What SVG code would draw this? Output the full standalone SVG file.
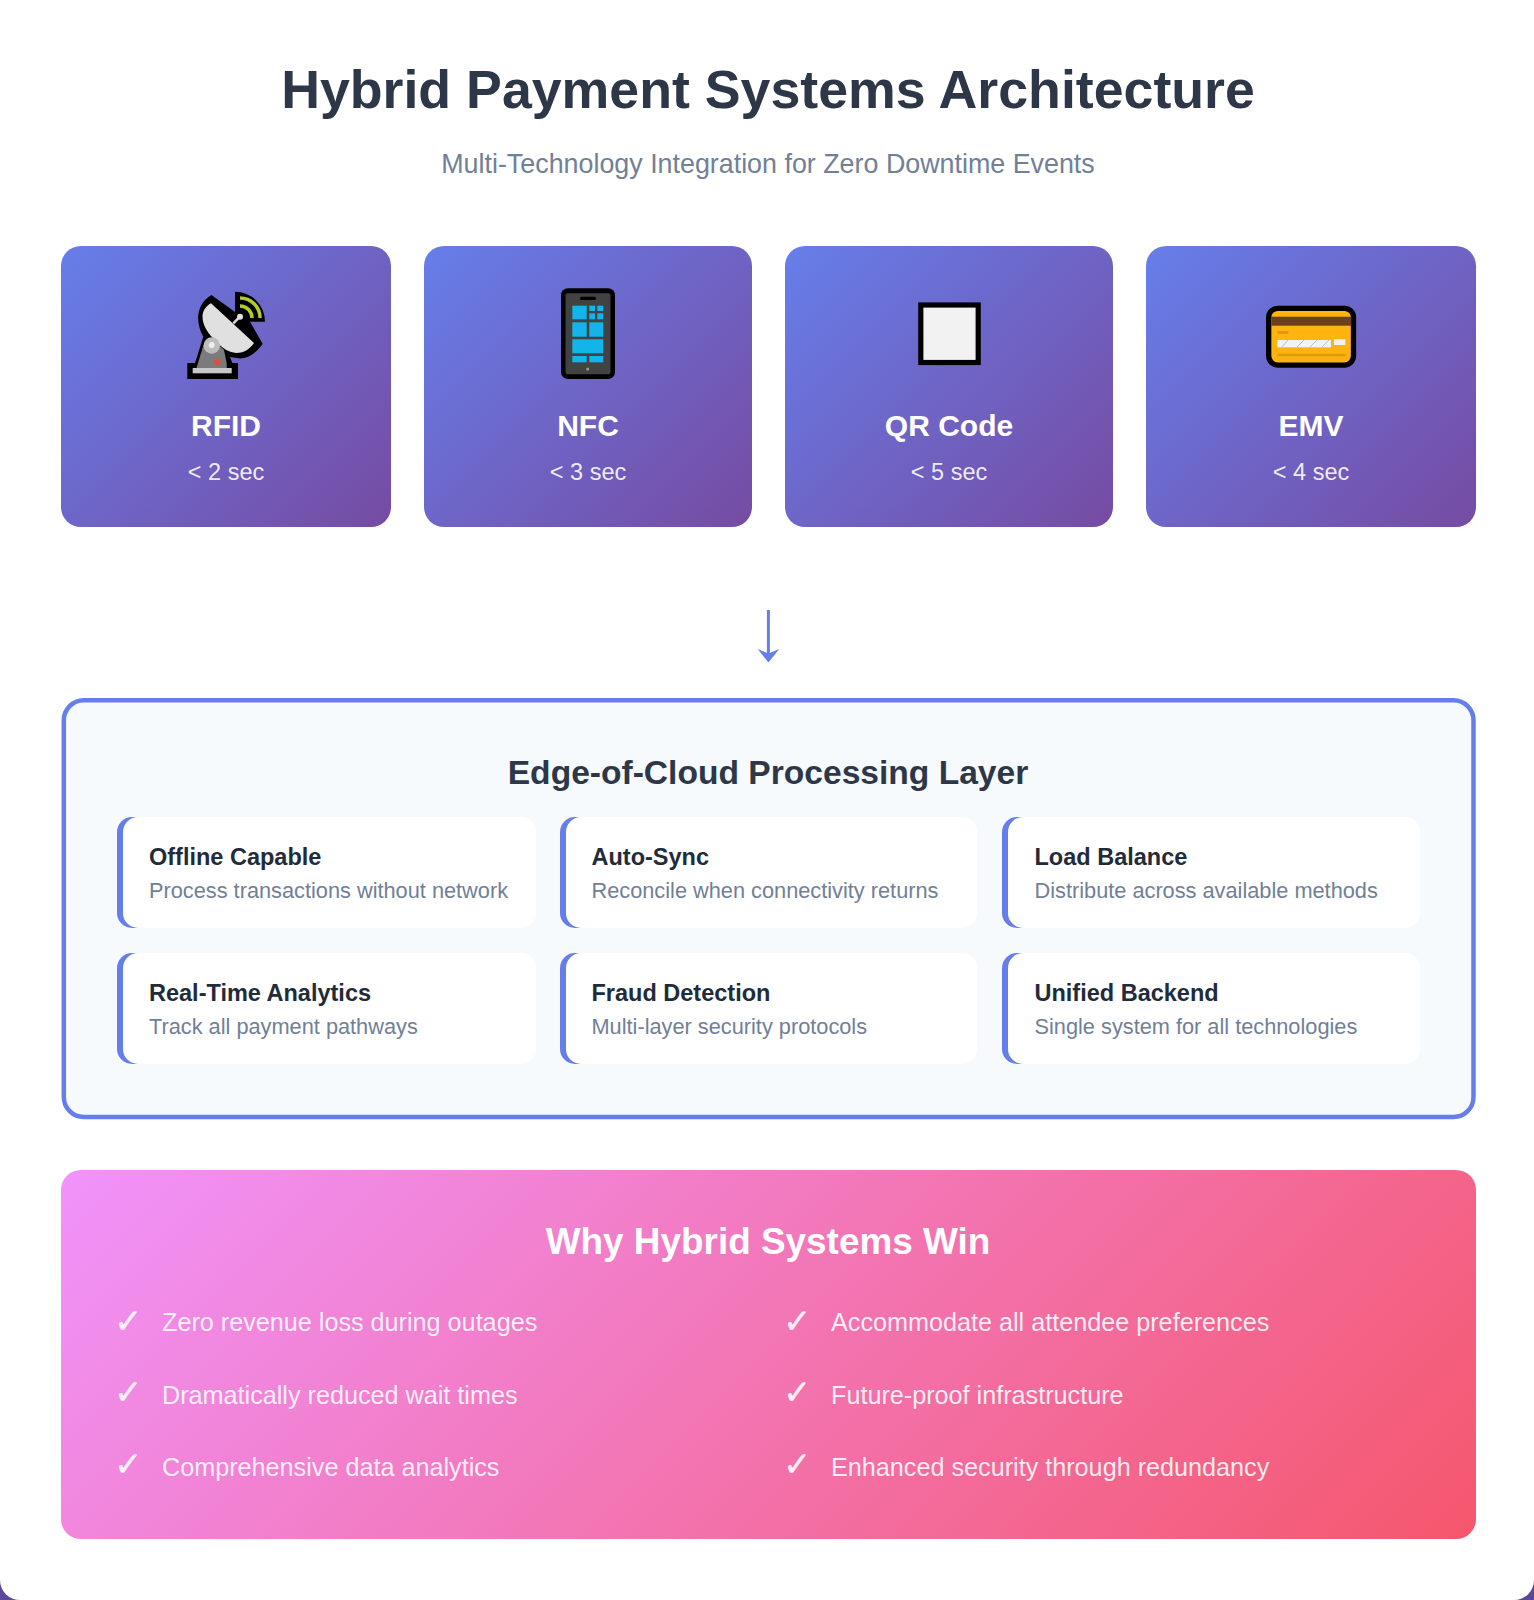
<svg xmlns="http://www.w3.org/2000/svg" width="1534" height="1600" viewBox="0 0 1534 1600">
<style>
text{font-family:"Liberation Sans",Arial,sans-serif}
.c{text-anchor:middle}
.tt{font-size:53.7px;font-weight:700;fill:#2d3748}
.st{font-size:26.85px;fill:#718096}
.cn{font-size:30px;font-weight:700;fill:#fff;text-anchor:middle}
.cs{font-size:23.5px;fill:#fff;fill-opacity:.9;text-anchor:middle}
.h2{font-size:33.6px;font-weight:700;fill:#2d3748;text-anchor:middle}
.bar{fill:#667eea}
.fc{fill:#fff}
.ft{font-size:23.5px;font-weight:700;fill:#222b3a}
.fd{font-size:21.75px;fill:#718096}
.w{font-size:36.9px;font-weight:700;fill:#fff;text-anchor:middle}
.ck{font-size:34px;fill:#fff;fill-opacity:.9;stroke:#fff;stroke-opacity:.8;stroke-width:.4;font-family:"DejaVu Sans",sans-serif}
.bt{font-size:25.2px;fill:#fff;fill-opacity:.88}
</style>
<defs>
<linearGradient id="g1" gradientUnits="userSpaceOnUse" x1="73.250" y1="233.750" x2="378.750" y2="539.250"><stop offset="0" stop-color="#667eea"/><stop offset="1" stop-color="#764ba2"/></linearGradient>
<linearGradient id="g1b" href="#g1" x1="435.750" y1="234" x2="740.250" y2="538.500"/>
<linearGradient id="g1c" href="#g1" x1="796.750" y1="234" x2="1101.250" y2="538.500"/>
<linearGradient id="g1d" href="#g1" x1="1158.250" y1="233.750" x2="1463.750" y2="539.250"/>
<linearGradient id="g2" gradientUnits="userSpaceOnUse" x1="322.500" y1="908.500" x2="1214.500" y2="1800.500"><stop offset="0" stop-color="#f093fb"/><stop offset="1" stop-color="#f5576c"/></linearGradient>
<path id="bar" d="M132 0H15A15 15 0 0 0 0 15V96A15 15 0 0 0 15 111H132Z"/>
</defs>
<rect y="1500" width="1534" height="100" fill="#5c479c"/>
<path d="M0 0H1534V1580A20 20 0 0 1 1514 1600H20A20 20 0 0 1 0 1580Z" fill="#fff"/>
<g id="title">
<text class="tt c" x="768" y="108">Hybrid Payment Systems Architecture</text>
<text class="st c" x="768" y="172.500">Multi-Technology Integration for Zero Downtime Events</text>
</g>
<g id="node-rfid">
<rect x="61" y="246" width="330" height="281" rx="20" fill="url(#g1)"/>
<path fill="#000" d="M211.500 295L235 312V291.700A30 30 0 0 1 265 321.700H250L262.700 344C256 353 248 358.500 240 358.500L230 357L232.300 363H238V379H187.300V363H195L203.300 336.700C195 322 196 304 211.500 295Z"/>
<path fill="#e0e0e0" d="M211 303.300L254 343C249 350 243 353 236 353C226 352 219 345 213 338C206 331 202.500 323 202.500 316.700C202.500 311 206 306 211 303.300Z"/>
<path stroke="#dcdcdc" stroke-width="2.500" d="M233.300 323.300L240 316.700"/>
<circle cx="240" cy="316.700" r="3" fill="#e0e0e0"/>
<path fill="none" stroke="#b4c92e" stroke-width="3.500" d="M240 298A20 20 0 0 1 260 318M240 306A12 12 0 0 1 252 318"/>
<path fill="#7b7b7b" d="M203.500 345L214 340L224 350L226.700 363.500V368H196.500L198 363Z"/>
<circle cx="211.700" cy="345.500" r="8.200" fill="#bdbdbd"/>
<circle cx="211.700" cy="345" r="3" fill="#eee"/>
<circle cx="217.300" cy="362.300" r="3.300" fill="#d9503f"/>
<rect x="192.700" y="368" width="39" height="5.300" fill="#c8c8c8"/>
<text class="cn" x="226" y="436">RFID</text>
<text class="cs" x="226" y="480">&lt; 2 sec</text>
</g>
<g id="node-nfc">
<rect x="424" y="246" width="328" height="281" rx="20" fill="url(#g1b)"/>
<rect x="561" y="288.300" width="54" height="90.700" rx="7" fill="#000"/>
<rect x="565.500" y="293.300" width="45" height="81" rx="2" fill="#424242"/>
<rect x="580" y="296.700" width="16" height="3.300" rx="1.600" fill="#000"/>
<g fill="#12b5ea">
<rect x="572.300" y="305.700" width="14.400" height="13.600"/>
<rect x="589.300" y="305.700" width="5.700" height="5.300"/><rect x="597.300" y="305.700" width="6" height="5.300"/>
<rect x="589.300" y="313.300" width="5.700" height="6"/><rect x="597.300" y="313.300" width="6" height="6"/>
<rect x="572.300" y="322.300" width="14.400" height="14.400"/><rect x="589.300" y="322.300" width="14" height="14.400"/>
<rect x="572.300" y="339.300" width="31" height="14"/>
<rect x="572.300" y="356" width="14.400" height="6.300"/><rect x="589.300" y="356" width="14" height="6.300"/>
</g>
<circle cx="587.700" cy="369" r="1.500" fill="#999"/>
<text class="cn" x="588" y="436">NFC</text>
<text class="cs" x="588" y="480">&lt; 3 sec</text>
</g>
<g id="node-qr">
<rect x="785" y="246" width="328" height="281" rx="20" fill="url(#g1c)"/>
<rect x="920.800" y="305" width="57.400" height="57.500" fill="#f2f2f2" stroke="#000" stroke-width="5.200"/>
<text class="cn" x="949" y="436">QR Code</text>
<text class="cs" x="949" y="480">&lt; 5 sec</text>
</g>
<g id="node-emv">
<rect x="1146" y="246" width="330" height="281" rx="20" fill="url(#g1d)"/>
<rect x="1268.700" y="308.300" width="84.800" height="56.800" rx="9" fill="#ffb30f" stroke="#000" stroke-width="5.300"/>
<rect x="1271.300" y="316.700" width="80" height="9" fill="#6b3f1a"/>
<rect x="1277.300" y="331" width="11" height="3" fill="#e09a10"/>
<rect x="1277.300" y="340" width="53.700" height="7.300" fill="#f2f2f2"/>
<path stroke="#a8c5d6" stroke-width="1" d="M1282 347L1288 340M1297 347L1304 340M1310 347L1317 340M1322 347L1329 340"/>
<rect x="1334" y="339.300" width="11.300" height="5.700" fill="#f2f2f2"/>
<rect x="1277.300" y="353.700" width="68" height="2.600" fill="#e09a10"/>
<text class="cn" x="1311" y="436">EMV</text>
<text class="cs" x="1311" y="480">&lt; 4 sec</text>
</g>
<g id="connectors">
<path d="M768.400 610V655" stroke="#667eea" stroke-width="3" fill="none"/>
<path d="M757.700 649L768.400 653.500L779.300 649L768.400 662.500Z" fill="#667eea"/>
</g>
<g id="edge-layer">
<rect x="63.800" y="700.300" width="1409.700" height="416.700" rx="20" fill="#f7fafc" stroke="#667eea" stroke-width="4.500"/>
<text class="h2" x="768" y="784">Edge-of-Cloud Processing Layer</text>
</g>
<g id="f1"><use href="#bar" class="bar" x="117" y="817"/><rect class="fc" x="123" y="817" width="413" height="111" rx="15"/><text class="ft" x="149" y="865">Offline Capable</text><text class="fd" x="149" y="898">Process transactions without network</text></g>
<g id="f2"><use href="#bar" class="bar" x="560" y="817"/><rect class="fc" x="566" y="817" width="411" height="111" rx="15"/><text class="ft" x="591.500" y="865">Auto-Sync</text><text class="fd" x="591.500" y="898">Reconcile when connectivity returns</text></g>
<g id="f3"><use href="#bar" class="bar" x="1002" y="817"/><rect class="fc" x="1008" y="817" width="412" height="111" rx="15"/><text class="ft" x="1034.500" y="865">Load Balance</text><text class="fd" x="1034.500" y="898">Distribute across available methods</text></g>
<g id="f4"><use href="#bar" class="bar" x="117" y="953"/><rect class="fc" x="123" y="953" width="413" height="111" rx="15"/><text class="ft" x="149" y="1001">Real-Time Analytics</text><text class="fd" x="149" y="1034">Track all payment pathways</text></g>
<g id="f5"><use href="#bar" class="bar" x="560" y="953"/><rect class="fc" x="566" y="953" width="411" height="111" rx="15"/><text class="ft" x="591.500" y="1001">Fraud Detection</text><text class="fd" x="591.500" y="1034">Multi-layer security protocols</text></g>
<g id="f6"><use href="#bar" class="bar" x="1002" y="953"/><rect class="fc" x="1008" y="953" width="412" height="111" rx="15"/><text class="ft" x="1034.500" y="1001">Unified Backend</text><text class="fd" x="1034.500" y="1034">Single system for all technologies</text></g>
<g id="benefits">
<rect x="61" y="1170" width="1415" height="369" rx="20" fill="url(#g2)"/>
<text class="w" x="768" y="1254">Why Hybrid Systems Win</text>
<text class="ck" x="114" y="1332.500">✓</text><text class="bt" x="162" y="1331">Zero revenue loss during outages</text>
<text class="ck" x="114" y="1404">✓</text><text class="bt" x="162" y="1403.500">Dramatically reduced wait times</text>
<text class="ck" x="114" y="1476">✓</text><text class="bt" x="162" y="1476">Comprehensive data analytics</text>
<text class="ck" x="783" y="1332.500">✓</text><text class="bt" x="831" y="1331">Accommodate all attendee preferences</text>
<text class="ck" x="783" y="1404">✓</text><text class="bt" x="831" y="1403.500">Future-proof infrastructure</text>
<text class="ck" x="783" y="1476">✓</text><text class="bt" x="831" y="1476">Enhanced security through redundancy</text>
</g>
</svg>
